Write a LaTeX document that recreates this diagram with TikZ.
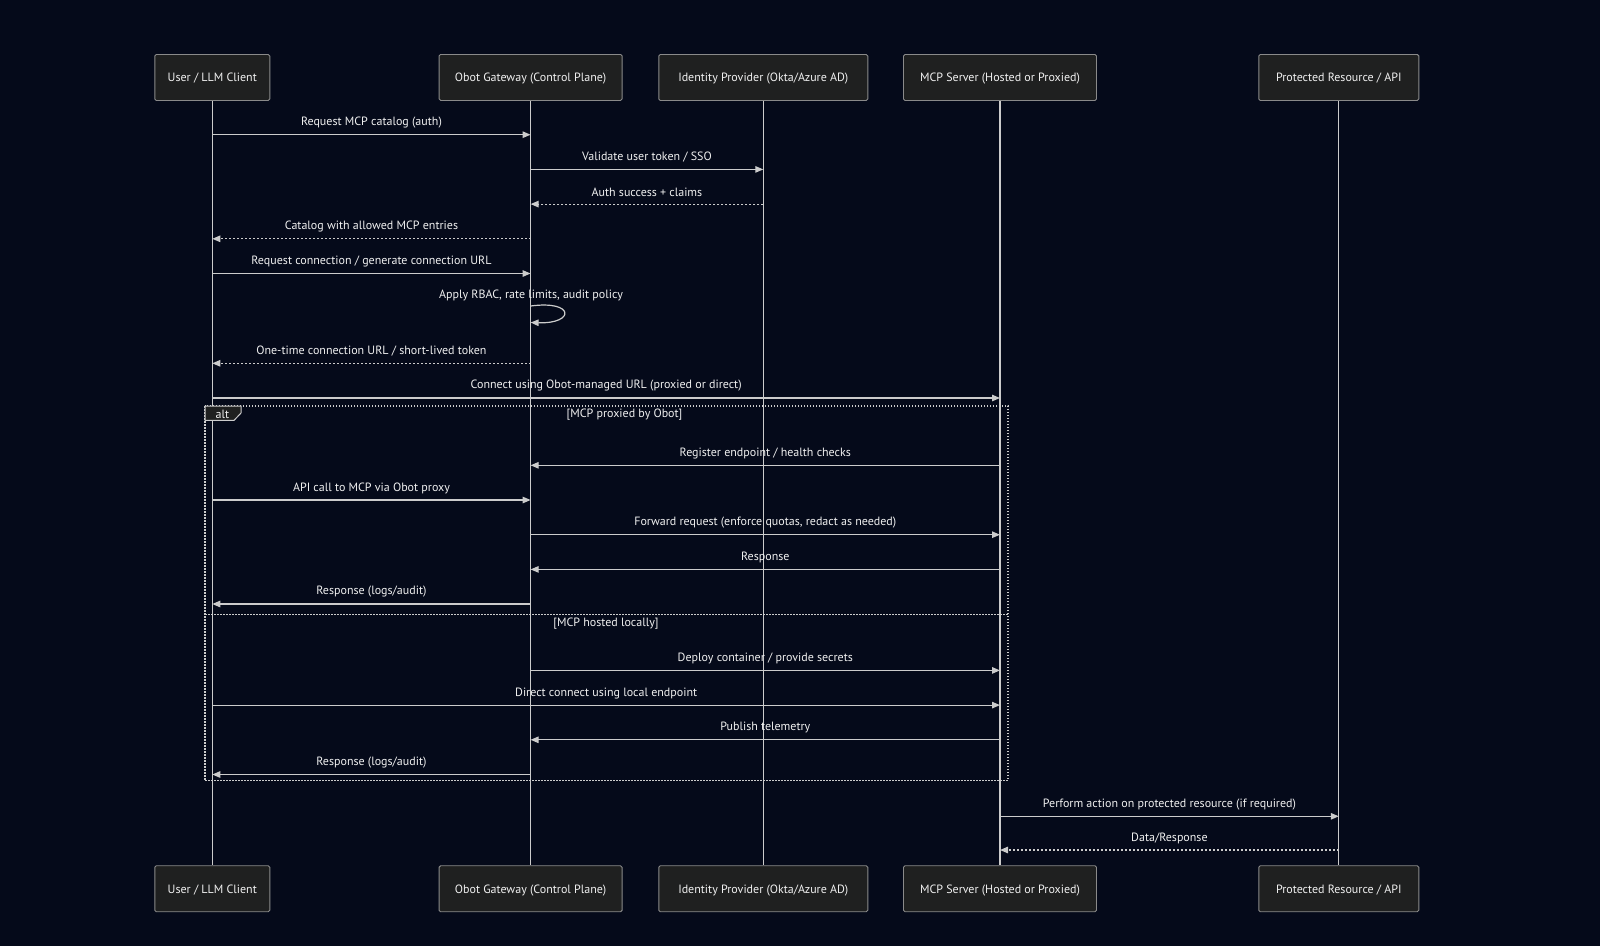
\documentclass[tikz,border=0pt]{standalone}
\usepackage{fontspec}
\setmainfont{PT Sans}
\usetikzlibrary{arrows.meta}
\definecolor{bg}{HTML}{050A1A}
\definecolor{boxfill}{HTML}{1F2020}
\definecolor{boxdraw}{HTML}{8A8A8A}
\definecolor{linec}{HTML}{CCCCCC}
\definecolor{txt}{HTML}{F0F0F0}
\tikzset{
  actor/.style={draw=boxdraw, fill=boxfill, rounded corners=1.5pt, line width=0.9pt, minimum height=46pt, text=txt, font=\fontsize{12}{14}\selectfont, inner sep=0pt, anchor=north, text depth=-1pt},
  life/.style={draw=linec, line width=1.1pt},
  msg/.style={draw=linec, line width=1.2pt, -{Triangle[length=8pt,width=6.5pt]}},
  rmsg/.style={msg, dash pattern=on 2pt off 2pt},
  lbl/.style={text=txt, font=\fontsize{12}{14}\selectfont, inner sep=0pt},
  mlbl/.style={lbl, midway, yshift=12pt},
  frame/.style={draw=linec, line width=1.2pt, dash pattern=on 1.5pt off 1.5pt},
}
\begin{document}
\begin{tikzpicture}[x=1pt,y=-1pt]
\fill[bg] (0,0) rectangle (1600,946);
\useasboundingbox (0,0) rectangle (1600,946);
% participants top
\node[actor, minimum width=115pt] (u) at (212.3,54) {User / LLM Client};
\node[actor, minimum width=183pt] (g) at (530.6,54) {Obot Gateway (Control Plane)};
\node[actor, minimum width=209pt] (i) at (763.3,54) {Identity Provider (Okta/Azure AD)};
\node[actor, minimum width=193pt] (m) at (1000,54) {MCP Server (Hosted or Proxied)};
\node[actor, minimum width=160pt] (p) at (1338.8,54) {Protected Resource / API};
% participants bottom
\node[actor, minimum width=115pt] (ub) at (212.3,865.3) {User / LLM Client};
\node[actor, minimum width=183pt] (gb) at (530.6,865.3) {Obot Gateway (Control Plane)};
\node[actor, minimum width=209pt] (ib) at (763.3,865.3) {Identity Provider (Okta/Azure AD)};
\node[actor, minimum width=193pt] (mb) at (1000,865.3) {MCP Server (Hosted or Proxied)};
\node[actor, minimum width=160pt] (pb) at (1338.8,865.3) {Protected Resource / API};
% lifelines
\draw[life] (u) -- (ub);
\draw[life] (g) -- (gb);
\draw[life] (i) -- (ib);
\draw[life] (m) -- (mb);
\draw[life] (p) -- (pb);
% alt frame
\draw[frame] (205,406) rectangle (1008,780.6);
\draw[frame] (205,614.3) -- (1008,614.3);
\filldraw[draw=linec, fill=boxfill, line width=1pt] (205,406) -- (241,406) -- (241,413) -- (234,420.4) -- (205,420.4) -- cycle;
\node[lbl] (altl) at (222.5,414) {alt};
\node[lbl] (s1) at (624.5,415) {[MCP proxied by Obot]};
\node[lbl] (s2) at (606,623.2) {[MCP hosted locally]};
% messages
\draw[msg] (u |- 0,134.7) -- node[mlbl] {Request MCP catalog (auth)} (g |- 0,134.7);
\draw[msg] (g |- 0,169.4) -- node[mlbl] {Validate user token / SSO} (i |- 0,169.4);
\draw[rmsg] (i |- 0,204.1) -- node[mlbl] {Auth success + claims} (g |- 0,204.1);
\draw[rmsg] (g |- 0,238.8) -- node[mlbl] {Catalog with allowed MCP entries} (u |- 0,238.8);
\draw[msg] (u |- 0,273.5) -- node[mlbl] {Request connection / generate connection URL} (g |- 0,273.5);
\node[lbl] (selfl) at (531,295) {Apply RBAC, rate limits, audit policy};
\draw[msg] (g |- 0,306) .. controls (575,300) and (575,324) .. (g |- 0,322.5);
\draw[rmsg] (g |- 0,363.3) -- node[mlbl] {One-time connection URL / short-lived token} (u |- 0,363.3);
\draw[msg] (u |- 0,398) -- node[mlbl] {Connect using Obot-managed URL (proxied or direct)} (m |- 0,398);
\draw[msg] (m |- 0,465.3) -- node[mlbl] {Register endpoint / health checks} (g |- 0,465.3);
\draw[msg] (u |- 0,500) -- node[mlbl] {API call to MCP via Obot proxy} (g |- 0,500);
\draw[msg] (g |- 0,534.7) -- node[mlbl] {Forward request (enforce quotas, redact as needed)} (m |- 0,534.7);
\draw[msg] (m |- 0,569.4) -- node[mlbl] {Response} (g |- 0,569.4);
\draw[msg] (g |- 0,604) -- node[mlbl] {Response (logs/audit)} (u |- 0,604);
\draw[msg] (g |- 0,670.4) -- node[mlbl] {Deploy container / provide secrets} (m |- 0,670.4);
\draw[msg] (u |- 0,705.1) -- node[mlbl] {Direct connect using local endpoint} (m |- 0,705.1);
\draw[msg] (m |- 0,739.8) -- node[mlbl] {Publish telemetry} (g |- 0,739.8);
\draw[msg] (g |- 0,774.5) -- node[mlbl] {Response (logs/audit)} (u |- 0,774.5);
\draw[msg] (m |- 0,816.3) -- node[mlbl] {Perform action on protected resource (if required)} (p |- 0,816.3);
\draw[rmsg] (p |- 0,850) -- node[mlbl] {Data/Response} (m |- 0,850);
\end{tikzpicture}
\end{document}
